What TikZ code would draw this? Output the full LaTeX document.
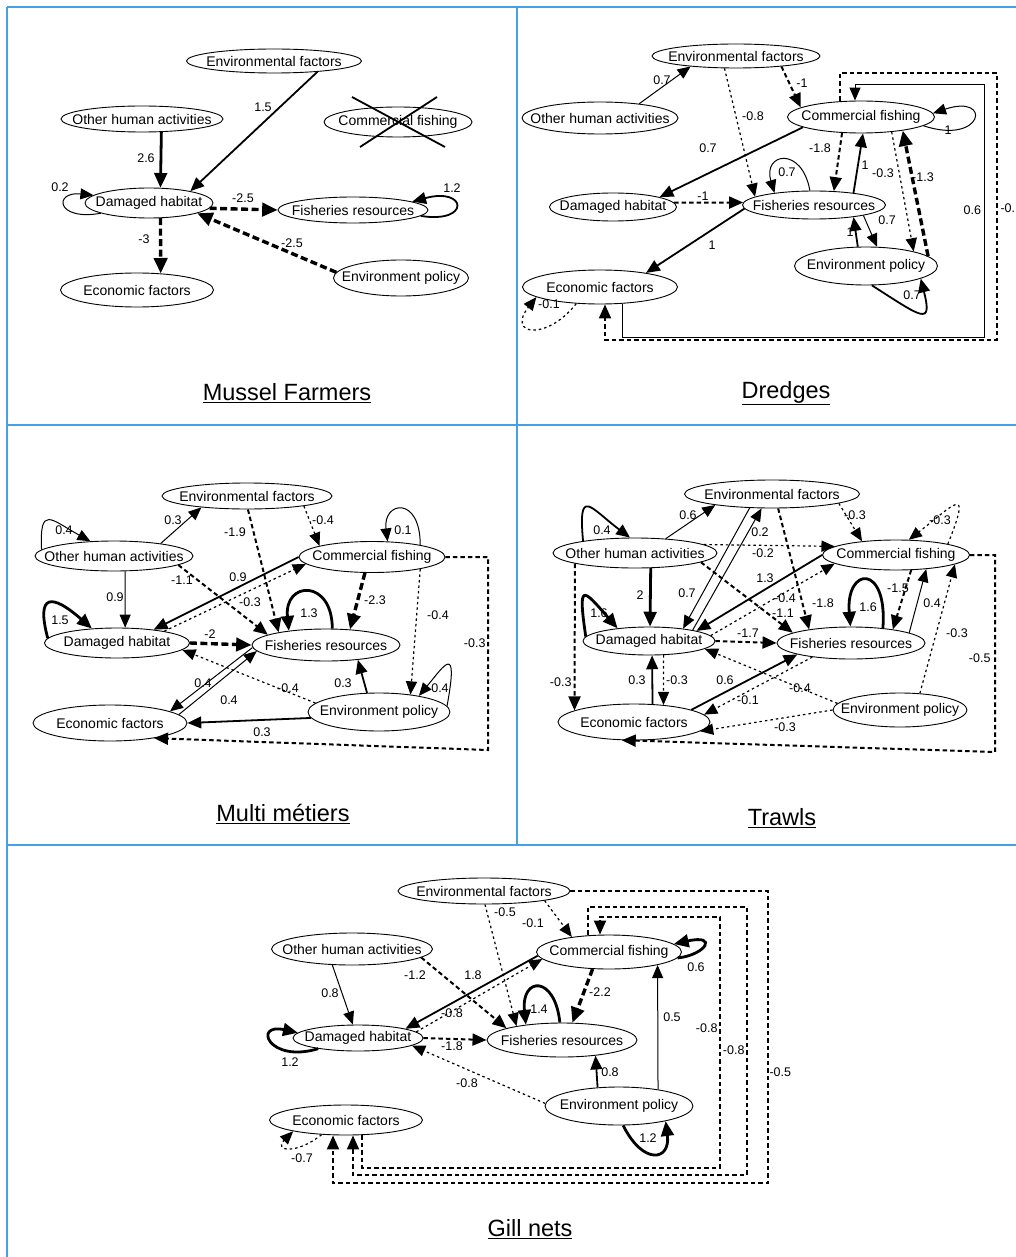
\documentclass[tikz,border=0pt]{standalone}
\usepackage{fontspec}
\setmainfont{Liberation Sans}
\usepackage{tikz}
\usetikzlibrary{arrows.meta,shapes.geometric}
\definecolor{frame}{RGB}{70,160,225}
\newcommand{\fac}[1]{\makebox[0pt]{#1}}

\begin{document}
\begin{tikzpicture}[x=1pt,y=1pt,yscale=-1,xscale=1,
  factor/.style={draw, ellipse, line width=0.9pt, inner sep=0pt, font=\fontsize{14}{16}\selectfont},
  wt/.style={font=\fontsize{12.5}{14}\selectfont, inner sep=0.5pt},
  ttl/.style={font=\fontsize{23.5}{26}\selectfont, inner sep=0pt},
  link/.style={->, >={Triangle[length=12pt 1, width=10pt 1]}},
  posA/.style={link, line width=1pt},
  posB/.style={link, line width=1.8pt},
  posC/.style={link, line width=2.8pt},
  negA/.style={link, line width=1.2pt, dash pattern=on 2.5pt off 3pt},
  negB/.style={link, line width=2pt, dash pattern=on 4.5pt off 3pt},
  negC/.style={link, line width=3.4pt, dash pattern=on 7pt off 3.5pt},
  panel/.style={draw=frame, line width=1.8pt}]
\useasboundingbox (0,0) rectangle (1016,1257);

% panel frame
\draw[panel] (7,7) -- (1016,7);
\draw[panel] (7,7) -- (7,1257);
\draw[panel] (517,7) -- (517,845);
\draw[panel] (7,425) -- (1016,425);
\draw[panel] (7,845) -- (1016,845);

%%%%%%%%%% Mussel Farmers
\node[factor, minimum width=175pt, minimum height=24pt] (mfEnv) at (274,61) {\fac{Environmental factors}};
\node[factor, minimum width=162pt, minimum height=26pt] (mfOth) at (142,119) {\fac{Other human activities}};
\node[factor, minimum width=148pt, minimum height=30pt] (mfCom) at (398,122) {\fac{Commercial fishing}};
\node[factor, minimum width=128pt, minimum height=30pt] (mfDam) at (149,203) {\fac{Damaged habitat}};
\node[factor, minimum width=150pt, minimum height=26pt] (mfFish) at (353,210) {\fac{Fisheries resources}};
\node[factor, minimum width=153pt, minimum height=34pt] (mfEco) at (137,290) {\fac{Economic factors}};
\node[factor, minimum width=135pt, minimum height=36pt] (mfPol) at (401,278) {\fac{Environment policy}};
% crossed out
\draw[line width=1.8pt] (352,97) -- (445,147);
\draw[line width=1.8pt] (437,97) -- (360,147);

\draw[posC] (mfOth.-34) -- (mfDam.53) node[wt] (mfw1) at (146,158) {2.6};
\draw[posB] (mfEnv.-14) -- (mfDam.16) node[wt] (mfw2) at (263,107) {1.5};
\draw[posA] (mfDam.192) .. controls +(-45,8) and +(-40,-4) .. (mfDam.172) node[wt] (mfw3) at (60,187) {0.2};
\draw[negC] (mfDam.-5) -- (mfFish.180) node[wt] (mfw4) at (243,198) {-2.5};
\draw[posB] (mfFish.-5) .. controls +(50,8) and +(55,-15) .. (mfFish.8) node[wt] (mfw5) at (452,188) {1.2};
\draw[negC] (mfPol.175) -- (mfDam.-12) node[wt] (mfw6) at (292,243) {-2.5};
\draw[negC] (mfDam.-53) -- (mfEco.35) node[wt] (mfw7) at (144,239) {-3};

\node[ttl] (mfTitle) at (287,393) {\underline{Mussel Farmers}};

%%%%%%%%%% Dredges
\node[factor, minimum width=168pt, minimum height=24pt] (drEnv) at (736,56) {\fac{Environmental factors}};
\node[factor, minimum width=156pt, minimum height=32pt] (drOth) at (600,118) {\fac{Other human activities}};
\node[factor, minimum width=147pt, minimum height=32pt] (drCom) at (861,117) {\fac{Commercial fishing}};
\node[factor, minimum width=127pt, minimum height=28pt] (drDam) at (613,207) {\fac{Damaged habitat}};
\node[factor, minimum width=143pt, minimum height=28pt] (drFish) at (814,205) {\fac{Fisheries resources}};
\node[factor, minimum width=155pt, minimum height=34pt] (drEco) at (600,287) {\fac{Economic factors}};
\node[factor, minimum width=143pt, minimum height=38pt] (drPol) at (866,266) {\fac{Environment policy}};

\draw[posA] (drOth.20) -- (drEnv.-167) node[wt] (drw1) at (662,80) {0.7};
\draw[negB] (drEnv.-13) -- (drCom.171) node[wt] (drw2) at (802,83) {-1};
\draw[negA] (drEnv.-133) -- (drFish.172) node[wt] (drw3) at (753,116) {-0.8};
\draw[posB] (drCom.-170) -- (drDam.12) node[wt] (drw4) at (708,148) {0.7};
\draw[negB] (drDam.4) -- (drFish.178) node[wt] (drw5) at (703,196) {-1};
\draw[posB] (drFish.-177) -- (drEco.17) node[wt] (drw6) at (712,245) {1};
\draw[negA] (drEco.-145) .. controls +(-30,38) and +(-30,38) .. (drEco.-171) node[wt] (drw7) at (549,304) {-0.1};
\draw[posA] (drEco.south -| 622,0) |- (984,337) |- (855,85) -- (drCom.north -| 855,0) node[wt, anchor=east] (drw8) at (982,210) {0.6};
\draw[negB] (drCom.north -| 840,0) |- (997,73) |- (605,340) -- (drEco.south -| 605,0) node[wt, anchor=west] (drw9) at (999,208) {-0.};
\draw[posA] (drFish.106) .. controls +(-8,-45) and +(-12,-40) .. (drFish.163) node[wt] (drw10) at (787,172) {0.7};
\draw[posA] (drCom.-8) .. controls +(60,20) and +(60,-20) .. (drCom.3) node[wt] (drw11) at (948,130) {1};
\draw[negB] (drCom.-140) -- (drFish.35) node[wt] (drw12) at (820,148) {-1.8};
\draw[posB] (drFish.17) -- (drCom.-83) node[wt] (drw13) at (865,165) {1};
\draw[negA] (drCom.-26) -- (drPol.17) node[wt] (drw14) at (883,173) {-0.3};
\draw[negC] (drPol.9) -- (drCom.-18) node[wt] (drw15) at (923,177) {-1.3};
\draw[posA] (drFish.-12) -- (drPol.60) node[wt] (drw16) at (887,220) {0.7};
\draw[posB] (drPol.113) -- (drFish.-17) node[wt] (drw17) at (850,232) {1};
\draw[posB] (drPol.-73) .. controls +(50,32) and +(12,48) .. (drPol.-13) node[wt] (drw18) at (912,295) {0.7};

\node[ttl] (drTitle) at (786,393) {\underline{Dredges}};

%%%%%%%%%% Multi metiers
\node[factor, minimum width=170pt, minimum height=26pt] (mmEnv) at (247,496) {\fac{Environmental factors}};
\node[factor, minimum width=158pt, minimum height=30pt] (mmOth) at (114,556) {\fac{Other human activities}};
\node[factor, minimum width=146pt, minimum height=31pt] (mmCom) at (372,557) {\fac{Commercial fishing}};
\node[factor, minimum width=145pt, minimum height=30pt] (mmDam) at (117,643) {\fac{Damaged habitat}};
\node[factor, minimum width=148pt, minimum height=32pt] (mmFish) at (326,645) {\fac{Fisheries resources}};
\node[factor, minimum width=154pt, minimum height=36pt] (mmEco) at (110,723) {\fac{Economic factors}};
\node[factor, minimum width=142pt, minimum height=38pt] (mmPol) at (379,712) {\fac{Environment policy}};

\draw[posA] (mmOth.175) .. controls +(-2,-45) and +(-40,-22) .. (mmOth.148) node[wt] (mmw1) at (64,530) {0.4};
\draw[posA] (mmOth.15) -- (mmEnv.-166) node[wt] (mmw2) at (173,520) {0.3};
\draw[posA] (mmOth.-54) -- (mmDam.62) node[wt] (mmw3) at (115,597) {0.9};
\draw[posC] (mmDam.176) .. controls +(-12,-45) and +(-40,-35) .. (mmDam.150) node[wt] (mmw4) at (60,620) {1.5};
\draw[posB] (mmCom.180) -- (mmDam.20) node[wt] (mmw5) at (238,577) {0.9};
\draw[negA] (mmDam.14) -- (mmCom.-174) node[wt] (mmw6) at (250,602) {-0.3};
\draw[negB] (mmEnv.-86) -- (mmFish.165) node[wt] (mmw7) at (235,532) {-1.9};
\draw[negA] (mmEnv.-10) -- (mmCom.168) node[wt] (mmw8) at (323,520) {-0.4};
\draw[negB] (mmOth.-8) -- (mmFish.170) node[wt] (mmw9) at (182,580) {-1.1};
\draw[negC] (mmDam.0) -- (mmFish.180) node[wt] (mmw10) at (210,634) {-2};
\draw[posC] (mmFish.69) .. controls +(0,-50) and +(-5,-50) .. (mmFish.159) node[wt] (mmw11) at (309,613) {1.3};
\draw[negC] (mmCom.-114) -- (mmFish.33) node[wt] (mmw12) at (375,600) {-2.3};
\draw[posA] (mmCom.14) .. controls +(0,-50) and +(-5,-40) .. (mmCom.45) node[wt] (mmw13) at (403,530) {0.1};
\draw[negA] (mmCom.-14) -- (mmPol.29) node[wt] (mmw14) at (438,615) {-0.4};
\draw[negB] (mmCom.east) -| (488,750) -- (mmEco.-19) node[wt, anchor=east] (mmw15) at (487,643) {-0.3};
\draw[posA] (mmFish.-178) -- (mmEco.11) node[wt] (mmw16) at (203,683) {0.4};
\draw[posA] (mmEco.7) -- (mmFish.-175) node[wt] (mmw17) at (229,700) {0.4};
\draw[posB] (mmPol.-175) -- (mmEco.0) node[wt] (mmw18) at (262,732) {0.3};
\draw[negA] (mmPol.172) -- (mmDam.-6) node[wt] (mmw19) at (288,688) {-0.4};
\draw[posB] (mmPol.122) -- (mmFish.-25) node[wt] (mmw20) at (343,683) {0.3};
\draw[posA] (mmPol.5) .. controls +(12,-65) and +(25,-30) .. (mmPol.22) node[wt] (mmw21) at (440,688) {0.4};

\node[ttl] (mmTitle) at (283,814) {\underline{Multi métiers}};

%%%%%%%%%% Trawls
\node[factor, minimum width=175pt, minimum height=28pt] (trEnv) at (772,494) {\fac{Environmental factors}};
\node[factor, minimum width=164pt, minimum height=30pt] (trOth) at (635,553) {\fac{Other human activities}};
\node[factor, minimum width=147pt, minimum height=30pt] (trCom) at (896,555) {\fac{Commercial fishing}};
\node[factor, minimum width=132pt, minimum height=28pt] (trDam) at (649,641) {\fac{Damaged habitat}};
\node[factor, minimum width=148pt, minimum height=32pt] (trFish) at (851,643) {\fac{Fisheries resources}};
\node[factor, minimum width=152pt, minimum height=36pt] (trEco) at (634,722) {\fac{Economic factors}};
\node[factor, minimum width=134pt, minimum height=34pt] (trPol) at (900,710) {\fac{Environment policy}};

\draw[posB] (trOth.167) .. controls +(-5,-55) and +(-40,-30) .. (trOth.108) node[wt] (trw1) at (602,530) {0.4};
\draw[posA] (trOth.25) -- (trEnv.-169) node[wt] (trw2) at (688,515) {0.6};
\draw[posC] (trOth.-44) -- (trDam.86) node[wt] (trw3) at (640,595) {2};
\draw[posC] (trDam.176) .. controls +(-8,-55) and +(-35,-40) .. (trDam.158) node[wt] (trw4) at (599,613) {1.6};
\draw[negB] (trOth.-170) -- (trEco.169) node[wt, anchor=east] (trw5) at (573,682) {-0.3};
\draw[posA] (trEnv.-148) -- (trDam.20) node[wt] (trw6) at (687,593) {0.7};
\draw[posA] (trDam.14) -- (trEnv.-126) node[wt] (trw7) at (760,532) {0.2};
\draw[posB] (trCom.180) -- (trDam.12) node[wt] (trw8) at (765,578) {1.3};
\draw[negA] (trDam.5) -- (trCom.-172) node[wt] (trw9) at (785,598) {-0.4};
\draw[negA] (trOth.7) -- (trCom.172) node[wt] (trw10) at (763,553) {-0.2};
\draw[negB] (trEnv.-67) -- (trFish.162) node[wt] (trw11) at (823,603) {-1.8};
\draw[negB] (trOth.-8) -- (trFish.170) node[wt] (trw12) at (783,613) {-1.1};
\draw[negB] (trDam.0) -- (trFish.180) node[wt] (trw13) at (748,633) {-1.7};
\draw[negA] (trPol.174) -- (trDam.-8) node[wt] (trw14) at (800,688) {-0.4};
\draw[posB] (trEco.12) -- (trFish.-168) node[wt] (trw15) at (725,680) {0.6};
\draw[negA] (trFish.-160) -- (trEco.6) node[wt] (trw16) at (748,700) {-0.1};
\draw[negA] (trPol.180) -- (trEco.-8) node[wt] (trw17) at (785,727) {-0.3};
\draw[negB] (trCom.east) -| (995,752) -- (trEco.-124) node[wt, anchor=east] (trw18) at (992,658) {-0.5};
\draw[negA] (trCom.12) .. controls +(25,-62) and +(45,-35) .. (trCom.50) node[wt] (trw19) at (940,520) {-0.3};
\draw[negA] (trEnv.-8) -- (trCom.158) node[wt] (trw20) at (855,515) {-0.3};
\draw[negB] (trCom.-45) -- (trFish.18) node[wt] (trw21) at (898,588) {-1.5};
\draw[posA] (trFish.10) -- (trCom.-25) node[wt] (trw22) at (932,603) {0.4};
\draw[posC] (trFish.25) .. controls +(5,-65) and +(-5,-60) .. (trFish.92) node[wt] (trw23) at (868,607) {1.6};
\draw[negA] (trPol.40) -- (trCom.-9) node[wt] (trw24) at (957,633) {-0.3};
\draw[posB] (trEco.44) -- (trDam.-78) node[wt] (trw25) at (637,680) {0.3};
\draw[negA] (trDam.-44) -- (trEco.30) node[wt] (trw26) at (677,680) {-0.3};

\node[ttl] (trTitle) at (782,818) {\underline{Trawls}};

%%%%%%%%%% Gill nets
\node[factor, minimum width=172pt, minimum height=26pt] (gnEnv) at (484,891) {\fac{Environmental factors}};
\node[factor, minimum width=161pt, minimum height=32pt] (gnOth) at (352,949) {\fac{Other human activities}};
\node[factor, minimum width=145pt, minimum height=34pt] (gnCom) at (609,952) {\fac{Commercial fishing}};
\node[factor, minimum width=130pt, minimum height=26pt] (gnDam) at (358,1038) {\fac{Damaged habitat}};
\node[factor, minimum width=150pt, minimum height=34pt] (gnFish) at (562,1040) {\fac{Fisheries resources}};
\node[factor, minimum width=153pt, minimum height=30pt] (gnEco) at (346,1120) {\fac{Economic factors}};
\node[factor, minimum width=148pt, minimum height=38pt] (gnPol) at (619,1106) {\fac{Environment policy}};

\draw[posA] (gnOth.-141) -- (gnDam.111) node[wt] (gnw1) at (330,993) {0.8};
\draw[posC] (gnDam.-165) .. controls +(-50,15) and +(-45,-10) .. (gnDam.175) node[wt] (gnw2) at (290,1062) {1.2};
\draw[posB] (gnCom.-177) -- (gnDam.11) node[wt] (gnw3) at (473,975) {1.8};
\draw[negA] (gnDam.6) -- (gnCom.-174) node[wt] (gnw4) at (452,1013) {-0.8};
\draw[negB] (gnOth.-7) -- (gnFish.168) node[wt] (gnw5) at (415,975) {-1.2};
\draw[negA] (gnEnv.-86) -- (gnFish.163) node[wt] (gnw6) at (505,912) {-0.5};
\draw[negA] (gnEnv.-9) -- (gnCom.158) node[wt] (gnw7) at (533,923) {-0.1};
\draw[negB] (gnEnv.east) -| (768,1183) -| (gnEco.south -| 333,0) node[wt, anchor=west] (gnw8) at (768,1072) {-0.5};
\draw[negB] (gnCom.north -| 588,0) |- (747,907) -- (747,1175) -| (gnEco.south -| 353,0) node[wt, anchor=east] (gnw9) at (746,1050) {-0.8};
\draw[negB] (gnEco.south -| 362,0) |- (720,1168) |- (600,917) -- (gnCom.north -| 600,0) node[wt, anchor=east] (gnw10) at (719,1028) {-0.8};
\draw[negC] (gnCom.-134) -- (gnFish.59) node[wt] (gnw11) at (600,992) {-2.2};
\draw[posC] (gnFish.97) .. controls +(-5,-48) and +(-5,-48) .. (gnFish.157) node[wt] (gnw12) at (539,1009) {1.4};
\draw[negB] (gnDam.east) -- (gnFish.west) node[wt] (gnw13) at (452,1046) {-1.8};
\draw[negA] (gnPol.178) -- (gnDam.-8) node[wt] (gnw14) at (467,1083) {-0.8};
\draw[posB] (gnPol.139) -- (gnFish.-25) node[wt] (gnw15) at (610,1072) {0.8};
\draw[posA] (gnPol.23) -- (gnCom.-15) node[wt] (gnw16) at (672,1017) {0.5};
\draw[posC] (gnPol.-78) .. controls +(20,40) and +(5,40) .. (gnPol.-18) node[wt] (gnw17) at (648,1138) {1.2};
\draw[posC] (gnCom.-5) .. controls +(28,-3) and +(45,-10) .. (gnCom.7) node[wt] (gnw18) at (696,967) {0.6};
\draw[negA] (gnEco.-149) .. controls +(-25,20) and +(-20,20) .. (gnEco.-168) node[wt] (gnw19) at (302,1158) {-0.7};

\node[ttl] (gnTitle) at (530,1229) {\underline{Gill nets}};

\end{tikzpicture}
\end{document}
